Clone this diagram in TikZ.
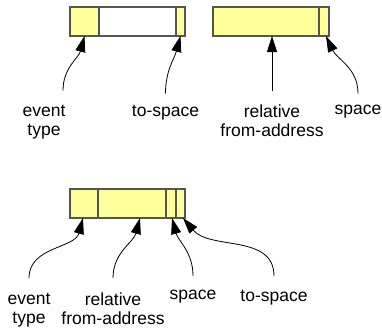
\documentclass[tikz,border=0pt]{standalone}
\usepackage{fontspec}
\setmainfont{Liberation Sans}
\usepackage{tikz}
\usetikzlibrary{positioning,arrows.meta}

\definecolor{cellfill}{RGB}{255,255,153}
\definecolor{boxline}{RGB}{85,85,85}

\tikzset{
  cell/.style={draw=boxline, fill=cellfill, line width=1.1pt, minimum height=29, inner sep=0pt, outer sep=0pt},
  blank/.style={cell, fill=white},
  lbl/.style={anchor=north, align=center, inner sep=0pt, font=\fontsize{17.5}{19.5}\selectfont},
  ptr/.style={line width=0.8pt, -{Triangle[length=16pt,width=10pt]}}
}

\begin{document}
\begin{tikzpicture}[x=1pt,y=-1pt]
\useasboundingbox (0,0) rectangle (382,335);

% top record: event type, unused, to-space
\node[cell, minimum width=29] (ev1) at (84.5,21.5) {};
\node[blank, minimum width=77, right=0pt of ev1] (gap1) {};
\node[cell, minimum width=9, right=0pt of gap1] (ts1) {};
% second word: relative from-address, space
\node[cell, minimum width=106] (rel1) at (266,21.5) {};
\node[cell, minimum width=10, right=0pt of rel1] (sp1) {};

% packed record
\node[cell, minimum width=28] (ev2) at (84,203.5) {};
\node[cell, minimum width=68, right=0pt of ev2] (rel2) {};
\node[cell, minimum width=10, right=0pt of rel2] (sp2) {};
\node[cell, minimum width=9, right=0pt of sp2] (ts2) {};

% labels
\node[lbl] (evl1) at (44,104.5) {event\\type};
\node[lbl] (tsl1) at (165.5,104.5) {to-space};
\node[lbl] (rell1) at (272,104.5) {relative\\from-address};
\node[lbl] (spl1) at (358,104.5) {space};

\node[lbl] (evl2) at (29,292.5) {event\\type};
\node[lbl] (rell2) at (113,292.5) {relative\\from-address};
\node[lbl] (spl2) at (193,289.5) {space};
\node[lbl] (tsl2) at (274,289.5) {to-space};

% pointers
\draw[ptr] ([xshift=19pt,yshift=14pt]evl1.north) to[out=90,in=-105] (ev1.south);
\draw[ptr] ([yshift=11pt]tsl1.north) to[out=90,in=-105] (ts1.south);
\draw[ptr] ([yshift=14pt]rell1.north) -- ([xshift=6pt]rel1.south);
\draw[ptr] ([yshift=11pt]spl1.north) to[out=90,in=-65] ([xshift=2pt]sp1.south);

\draw[ptr] ([yshift=14.5pt]evl2.north) to[out=90,in=-105] ([xshift=-1pt]ev2.south);
\draw[ptr] ([yshift=14.5pt]rell2.north) to[out=90,in=-105] ([xshift=8pt]rel2.south);
\draw[ptr] ([yshift=13.5pt]spl2.north) to[out=90,in=-75] ([xshift=1pt]sp2.south);
\draw[ptr] ([yshift=13.5pt]tsl2.north) to[out=90,in=-50] ([xshift=2.5pt]ts2.south);
\end{tikzpicture}
\end{document}
